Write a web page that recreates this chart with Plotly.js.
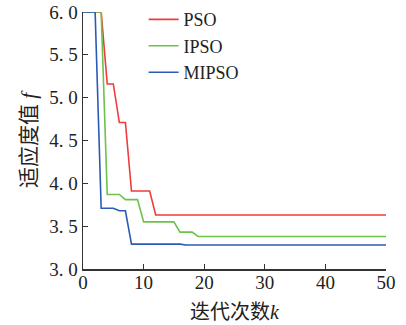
<!DOCTYPE html>
<html><head><meta charset="utf-8">
<script src="https://cdn.plot.ly/plotly-3.0.1.min.js"></script>
<style>html,body{margin:0;padding:0;background:#fff}#c{width:406px;height:325px}</style>
</head><body><div id="c"></div>
<script>
const seriesNames = ["PSO", "IPSO", "MIPSO"];
const psoX = [0, 3, 4, 5, 6, 7, 8, 11, 12, 50];
const psoY = [6.0, 6.0, 5.16, 5.16, 4.71, 4.71, 3.91, 3.91, 3.63, 3.63];
const ipsoX = [0, 3, 4, 6, 7, 9, 10, 15, 16, 18, 19, 50];
const ipsoY = [6.0, 6.0, 3.87, 3.87, 3.81, 3.81, 3.55, 3.55, 3.43, 3.43, 3.38, 3.38];
const mipsoX = [0, 2, 3, 5, 6, 7, 8, 16, 17, 50];
const mipsoY = [6.0, 6.0, 3.71, 3.71, 3.68, 3.68, 3.29, 3.29, 3.28, 3.28];
const xTickVals = [0, 10, 20, 30, 40, 50];
const xTickText = ["0", "10", "20", "30", "40", "50"];
const yTickVals = [3.0, 3.5, 4.0, 4.5, 5.0, 5.5, 6.0];
const yTickText = ["3. 0", "3. 5", "4. 0", "4. 5", "5. 0", "5. 5", "6. 0"];
const colors = ["#f23a3a", "#6cc24a", "#2a5bb5"];

const font = "Liberation Serif, Noto Sans CJK SC, serif";
const traces = [
  {x: psoX, y: psoY, name: seriesNames[0]},
  {x: ipsoX, y: ipsoY, name: seriesNames[1]},
  {x: mipsoX, y: mipsoY, name: seriesNames[2]}
].map((t, i) => Object.assign(t, {type: "scatter", mode: "lines", line: {color: colors[i], width: 1.6}}));

const axisCommon = {
  showgrid: false, zeroline: false, showline: true, linecolor: "#333", linewidth: 1.5,
  ticks: "inside", ticklen: 5, tickwidth: 1.2, tickcolor: "#333",
  tickfont: {family: font, size: 19, color: "#222"}, mirror: false
};
const layout = {
  width: 406, height: 325,
  margin: {l: 83, r: 20, t: 12, b: 56, autoexpand: false},
  paper_bgcolor: "#fff", plot_bgcolor: "#fff",
  showlegend: true,
  legend: {x: 0.2, y: 1.042, xanchor: "left", yanchor: "top", bgcolor: "rgba(0,0,0,0)",
           font: {family: "Liberation Serif, serif", size: 18, color: "#222"}, tracegroupgap: 0},
  xaxis: Object.assign({}, axisCommon, {range: [0, 50], tickvals: xTickVals, ticktext: xTickText,
    ticklabelstandoff: -4,
    title: {text: "迭代次数<i>k</i>", font: {family: font, size: 20, color: "#222"}, standoff: 12}}),
  yaxis: Object.assign({}, axisCommon, {range: [3, 6], tickvals: yTickVals, ticktext: yTickText,
    title: {text: "适应度值 <i>f</i>", font: {family: font, size: 21, color: "#222"}, standoff: 7}})
};
Plotly.newPlot("c", traces, layout, {displayModeBar: false, staticPlot: true});
</script></body></html>
